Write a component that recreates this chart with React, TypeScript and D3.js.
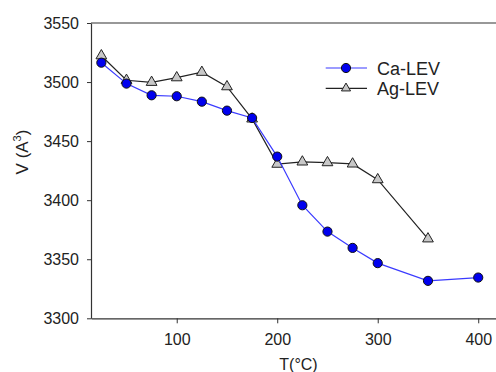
import { useEffect, useRef } from 'react'
import * as d3 from 'd3'

// temperatures (°C) and unit-cell volumes (Å^3)
const tempsCa = [25, 50, 75, 100, 125, 150, 175, 200, 225, 250, 275, 300, 350, 400]
const volCa = [3516.4, 3498.7, 3488.8, 3488, 3483.4, 3475.8, 3469.6, 3436.9, 3395.7, 3373.4, 3359.6, 3346.7, 3331.7, 3334.5]
const tempsAg = [25, 50, 75, 100, 125, 150, 175, 200, 225, 250, 275, 300, 350]
const volAg = [3522.3, 3501.5, 3499.8, 3503.7, 3508.3, 3496.1, 3468.8, 3430.5, 3432.4, 3431.8, 3430.7, 3417.4, 3367.3]
const xTicks = [100, 200, 300, 400]
const yTicks = [3300, 3350, 3400, 3450, 3500, 3550]

const FONT = 'Arial, "Liberation Sans", sans-serif'

const App = () => {
  const ref = useRef<SVGSVGElement>(null)

  useEffect(() => {
    if (!ref.current) return
    const svg = d3.select(ref.current)
    svg.selectAll('*').remove()

    const left = 91
    const top = 23
    const bottom = 318.3
    const x = d3.scaleLinear().domain([14.7, 420]).range([left, left + 405.3 * 1.005])
    const y = d3.scaleLinear().domain([3300, 3550]).range([bottom, top])
    const axisColor = '#333'

    // frame lines: left, top, bottom (right side cropped)
    svg.append('line').attr('x1', left).attr('x2', 520).attr('y1', top).attr('y2', top)
      .attr('stroke', axisColor).attr('stroke-width', 1.2)

    const yAxis = svg.append('g').attr('transform', `translate(${left},0)`)
      .call(d3.axisLeft(y).tickValues(yTicks).tickFormat(d3.format('d')).tickSize(4).tickSizeOuter(0).tickPadding(8))
    yAxis.select('.domain').attr('stroke', axisColor).attr('stroke-width', 1.2)
    yAxis.selectAll('line').attr('stroke', axisColor)
    yAxis.selectAll('text').style('font-size', '16px').style('font-family', FONT).attr('fill', '#222')

    const xAxis = svg.append('g').attr('transform', `translate(0,${bottom})`)
      .call(d3.axisBottom(x).tickValues(xTicks).tickFormat(d3.format('d')).tickSize(5).tickSizeOuter(0).tickPadding(10))
    xAxis.select('.domain').attr('stroke', axisColor).attr('stroke-width', 1.2)
    xAxis.selectAll('line').attr('stroke', axisColor)
    xAxis.selectAll('text').style('font-size', '16px').style('font-family', FONT).attr('fill', '#222')

    // axis titles
    svg.append('text').attr('x', 298.5).attr('y', 370).attr('text-anchor', 'middle')
      .style('font-size', '16px').style('font-family', FONT).attr('fill', '#222').text('T(°C)')
    const yl = svg.append('text').attr('transform', 'translate(28,152) rotate(-90)')
      .attr('text-anchor', 'middle').style('font-size', '17px').style('font-family', FONT).attr('fill', '#222')
    yl.append('tspan').text('V (A')
    yl.append('tspan').attr('dy', -7).style('font-size', '11px').text('3')
    yl.append('tspan').attr('dy', 7).text(')')

    const line = d3.line<[number, number]>().x((d) => x(d[0])).y((d) => y(d[1]))
    const ag: [number, number][] = tempsAg.map((t, i) => [t, volAg[i]])
    const ca: [number, number][] = tempsCa.map((t, i) => [t, volCa[i]])

    const tri = d3.symbol().type(d3.symbolTriangle).size(50)

    // Ag-LEV
    svg.append('path').attr('d', line(ag)).attr('fill', 'none').attr('stroke', '#222').attr('stroke-width', 1.2)
    svg.append('g').selectAll('path').data(ag).enter().append('path')
      .attr('d', tri).attr('transform', (d) => `translate(${x(d[0])},${y(d[1])})`)
      .attr('fill', '#c8c8c8').attr('stroke', '#222').attr('stroke-width', 1)

    // Ca-LEV
    svg.append('path').attr('d', line(ca)).attr('fill', 'none').attr('stroke', '#3a3aff').attr('stroke-width', 1.2)
    svg.append('g').selectAll('circle').data(ca).enter().append('circle')
      .attr('cx', (d) => x(d[0])).attr('cy', (d) => y(d[1])).attr('r', 4.6)
      .attr('fill', '#0000ee').attr('stroke', '#111').attr('stroke-width', 1)

    // legend
    const lg = svg.append('g')
    lg.append('line').attr('x1', 325.7).attr('x2', 367).attr('y1', 68).attr('y2', 68).attr('stroke', '#3a3aff').attr('stroke-width', 1.2)
    lg.append('circle').attr('cx', 346).attr('cy', 68).attr('r', 4.6).attr('fill', '#0000ee').attr('stroke', '#111')
    lg.append('text').attr('x', 377).attr('y', 74.5).style('font-size', '18px').style('font-family', FONT).attr('fill', '#222').text('Ca-LEV')
    lg.append('line').attr('x1', 325.7).attr('x2', 367).attr('y1', 88.3).attr('y2', 88.3).attr('stroke', '#222').attr('stroke-width', 1.2)
    lg.append('path').attr('d', d3.symbol().type(d3.symbolTriangle).size(36)).attr('transform', 'translate(346,88.3)')
      .attr('fill', '#c8c8c8').attr('stroke', '#222')
    lg.append('text').attr('x', 377).attr('y', 94.8).style('font-size', '18px').style('font-family', FONT).attr('fill', '#222').text('Ag-LEV')
  }, [])

  return (
    <svg ref={ref} width={496} height={372} style={{ position: 'absolute', left: 0, top: 0, background: '#fff' }} />
  )
}

export default App
